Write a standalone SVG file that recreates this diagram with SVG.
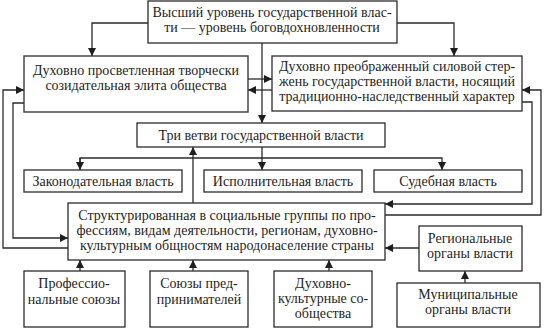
<svg xmlns="http://www.w3.org/2000/svg" width="544" height="329" viewBox="0 0 544 329">
<style>
.box{fill:#fff;stroke:#2b2b2b;stroke-width:1.3}
.ln{fill:none;stroke:#2b2b2b;stroke-width:1.3}
.t{font-family:'Liberation Serif','Times New Roman','DejaVu Serif',serif;font-size:14px;fill:#1e1e1e;text-anchor:middle}
</style>
<defs>
<marker id="ah" viewBox="0 0 10 10" refX="10" refY="5" markerWidth="8" markerHeight="8" markerUnits="userSpaceOnUse" orient="auto">
<path d="M0,0 L10,5 L0,10 z" fill="#1e1e1e"/>
</marker>
</defs>
<rect width="544" height="329" fill="#fff"/>
<g id="connectors">
<path class="ln" d="M148,23 H92 V56" marker-end="url(#ah)"/>
<path class="ln" d="M397,23 H454 V56" marker-end="url(#ah)"/>
<path class="ln" d="M262,43 V123" marker-end="url(#ah)"/>
<path class="ln" d="M248,79 H272" marker-end="url(#ah)"/>
<path class="ln" d="M272,90 H248" marker-end="url(#ah)"/>
<path class="ln" d="M24,103 H13 V238 H68" marker-end="url(#ah)"/>
<path class="ln" d="M68,248 H3 V90 H24" marker-end="url(#ah)"/>
<path class="ln" d="M522,102 H532 V204 H385" marker-end="url(#ah)"/>
<path class="ln" d="M385,215 H541 V90 H522" marker-end="url(#ah)"/>
<path class="ln" d="M262,147 V170" marker-end="url(#ah)"/>
<path class="ln" d="M80,170 V158 H442 V170" marker-end="url(#ah)"/>
<path class="ln" d="M80,158 V170" marker-end="url(#ah)"/>
<path class="ln" d="M193,203 V147" marker-end="url(#ah)"/>
<path class="ln" d="M80,271 V260" marker-end="url(#ah)"/>
<path class="ln" d="M193,271 V260" marker-end="url(#ah)"/>
<path class="ln" d="M329,271 V260" marker-end="url(#ah)"/>
<path class="ln" d="M419,248 H385" marker-end="url(#ah)"/>
<path class="ln" d="M465,283 V271" marker-end="url(#ah)"/>
</g>
<g id="top">
<rect class="box" x="148" y="1" width="249" height="42"/>
<text class="t" x="272" y="17">Высший уровень государственной влас-</text>
<text class="t" x="272" y="32">ти — уровень боговдохновленности</text>
</g>
<g id="elite">
<rect class="box" x="24" y="56" width="224" height="56"/>
<text class="t" x="136" y="75">Духовно просветленная творчески</text>
<text class="t" x="136" y="90">созидательная элита общества</text>
</g>
<g id="core">
<rect class="box" x="272" y="56" width="250" height="55"/>
<text class="t" x="397" y="71">Духовно преображенный силовой стер-</text>
<text class="t" x="397" y="86">жень государственной власти, носящий</text>
<text class="t" x="397" y="101">традиционно-наследственный характер</text>
</g>
<g id="branches">
<rect class="box" x="137" y="123" width="248" height="24"/>
<text class="t" x="261" y="140">Три ветви государственной власти</text>
</g>
<g id="legislative">
<rect class="box" x="24" y="170" width="158" height="22"/>
<text class="t" x="103" y="186">Законодательная власть</text>
</g>
<g id="executive">
<rect class="box" x="204" y="170" width="158" height="22"/>
<text class="t" x="283" y="186">Исполнительная власть</text>
</g>
<g id="judicial">
<rect class="box" x="374" y="170" width="148" height="22"/>
<text class="t" x="448" y="186">Судебная власть</text>
</g>
<g id="population">
<rect class="box" x="68" y="203" width="317" height="57"/>
<text class="t" x="227" y="220">Структурированная в социальные группы по про-</text>
<text class="t" x="227" y="235">фессиям, видам деятельности, регионам, духовно-</text>
<text class="t" x="227" y="250">культурным общностям народонаселение страны</text>
</g>
<g id="prof">
<rect class="box" x="24" y="271" width="101" height="56"/>
<text class="t" x="74" y="288">Профессио-</text>
<text class="t" x="74" y="304">нальные союзы</text>
</g>
<g id="business">
<rect class="box" x="150" y="271" width="98" height="56"/>
<text class="t" x="199" y="288">Союзы пред-</text>
<text class="t" x="199" y="304">принимателей</text>
</g>
<g id="cultural">
<rect class="box" x="274" y="271" width="98" height="56"/>
<text class="t" x="323" y="288">Духовно-</text>
<text class="t" x="323" y="303">культурные со-</text>
<text class="t" x="323" y="318">общества</text>
</g>
<g id="regional">
<rect class="box" x="419" y="226" width="103" height="45"/>
<text class="t" x="470" y="243">Региональные</text>
<text class="t" x="470" y="258">органы власти</text>
</g>
<g id="municipal">
<rect class="box" x="397" y="283" width="143" height="44"/>
<text class="t" x="468" y="299">Муниципальные</text>
<text class="t" x="468" y="314">органы власти</text>
</g>
</svg>
